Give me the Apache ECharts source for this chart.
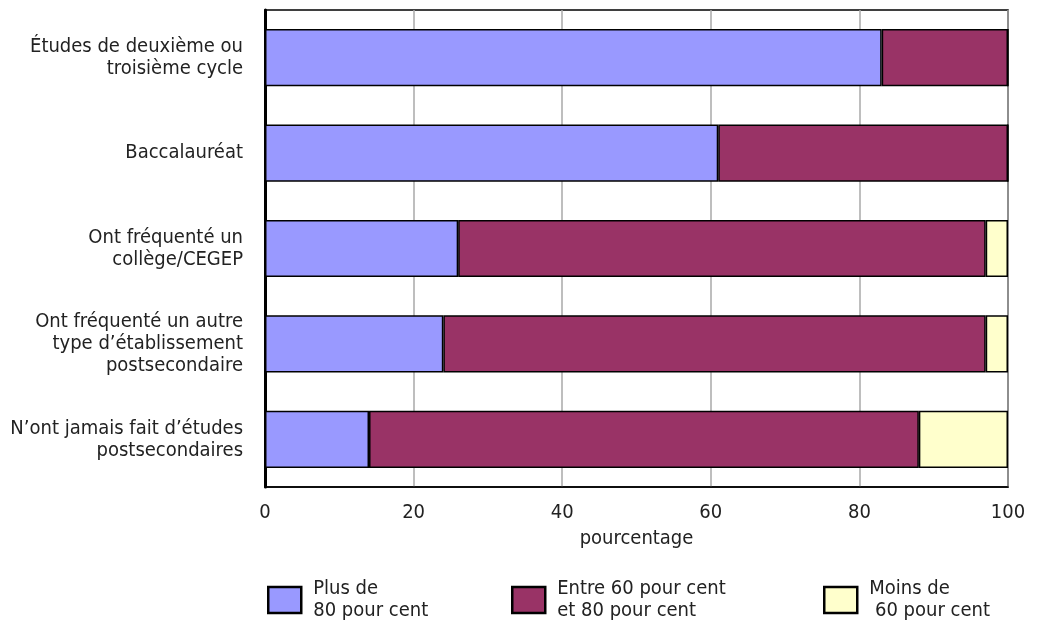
<!DOCTYPE html>
<html><head><meta charset="utf-8">
<script src="https://cdn.jsdelivr.net/npm/echarts@6/dist/echarts.min.js"></script>
<style>html,body{margin:0;padding:0;background:#fff}#c{width:1043px;height:622px}</style>
</head><body><div id="c"></div>
<script>
const categories = [
  "Études de deuxième ou\ntroisième cycle",
  "Baccalauréat",
  "Ont fréquenté un\ncollège/CEGEP",
  "Ont fréquenté un autre\ntype d’établissement\npostsecondaire",
  "N’ont jamais fait d’études\npostsecondaires"
];
const seriesNames = ["Plus de\n80 pour cent", "Entre 60 pour cent\net 80 pour cent", "Moins de\n 60 pour cent"];
const plus80 = [83, 61, 26, 24, 14];
const entre60_80 = [17, 39, 71, 73, 74];
const moins60 = [0, 0, 3, 3, 12];
const xTicks = [0, 20, 40, 60, 80, 100];
const xName = "pourcentage";

const colors = ["#9999FF", "#993366", "#FFFFCC"];
const FONT = "'DejaVu Sans Condensed', sans-serif";
const dataSets = [plus80, entre60_80, moins60];

const chart = echarts.init(document.getElementById('c'));
const legendLefts = [262, 506, 818];
chart.setOption({
  animation: false,
  textStyle: { fontFamily: FONT, color: '#222' },
  grid: { left: 265, right: 35, top: 10, bottom: 135, show: true, borderColor: '#000', borderWidth: 1.5 },
  xAxis: {
    type: 'value', min: xTicks[0], max: xTicks[xTicks.length - 1], interval: 20,
    axisLine: { show: true, lineStyle: { color: '#000', width: 1.5 } },
    axisTick: { show: false },
    axisLabel: { fontSize: 20, color: '#222', margin: 16, fontFamily: FONT },
    splitLine: { show: true, lineStyle: { color: '#a8a8a8', width: 1.5 } },
    name: xName, nameLocation: 'middle', nameGap: 42,
    nameTextStyle: { fontSize: 20, color: '#222', fontFamily: FONT }
  },
  yAxis: {
    type: 'category', data: categories, inverse: true,
    axisLine: { show: true, lineStyle: { color: '#000', width: 3 } },
    axisTick: { show: false },
    axisLabel: { fontSize: 20, color: '#222', margin: 22, lineHeight: 22, align: 'right', fontFamily: FONT }
  },
  legend: seriesNames.map((n, i) => ({
    data: [n], left: legendLefts[i], top: 573, orient: 'horizontal',
    itemWidth: 33, itemHeight: 26, itemGap: 10,
    icon: 'rect',
    textStyle: { fontSize: 20, color: '#222', lineHeight: 22, fontFamily: FONT, padding: [0,0,0,7] },
    itemStyle: { borderColor: '#000', borderWidth: 2.5 }
  })),
  series: seriesNames.map((n, i) => ({
    name: n, type: 'bar', stack: 'total', barWidth: '60%',
    data: dataSets[i],
    itemStyle: { color: colors[i], borderColor: '#000', borderWidth: 1.5 }
  }))
});
</script></body></html>
